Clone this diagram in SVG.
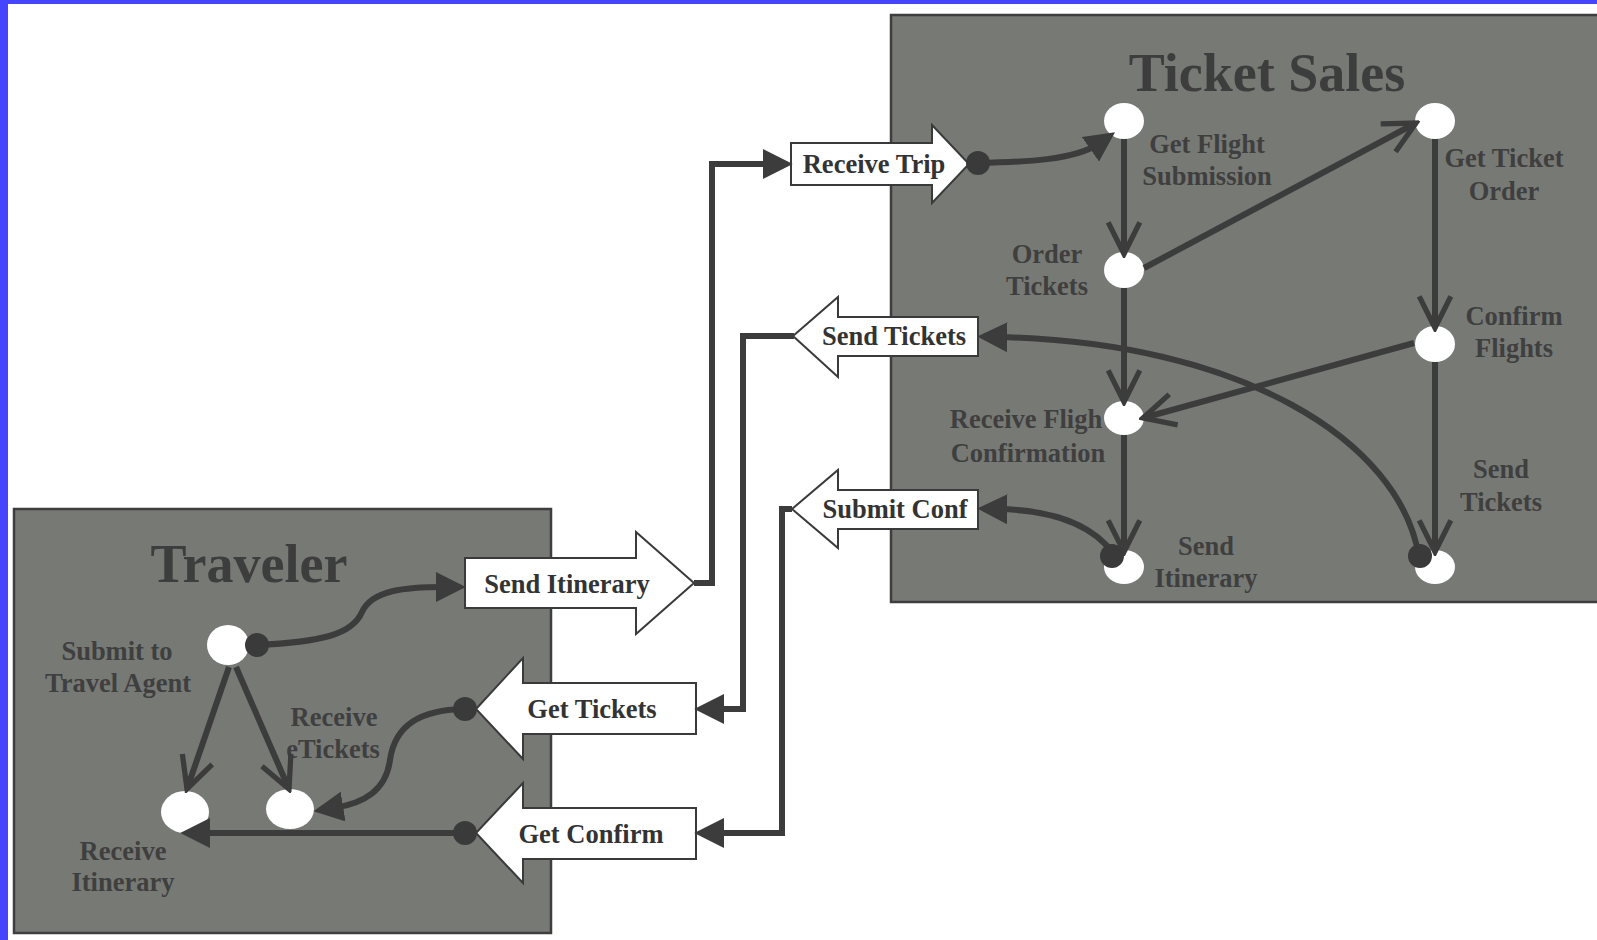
<svg xmlns="http://www.w3.org/2000/svg" width="1597" height="940" viewBox="0 0 1597 940">
<defs>
<style>
.bg{fill:#ffffff}
.frame{fill:#4545ff}
.box{fill:#777975;stroke:#3e3e3e;stroke-width:2.5}
.title{font-family:"Liberation Serif","Times New Roman",serif;font-weight:bold;font-size:54px;fill:#3d3d3d;text-anchor:middle}
.lbl{font-family:"Liberation Serif","Times New Roman",serif;font-weight:bold;font-size:26.5px;fill:#3f3f3f;text-anchor:middle}
.ilbl{font-family:"Liberation Serif","Times New Roman",serif;font-weight:bold;font-size:26.5px;fill:#333333;text-anchor:middle}
.node{fill:#ffffff}
.iface{fill:#ffffff;stroke:#3a3a3a;stroke-width:2}
.ln{fill:none;stroke:#3c3c3c;stroke-width:6}
.dot{fill:#3a3a3a}
</style>
<marker id="fa" markerUnits="userSpaceOnUse" markerWidth="30" markerHeight="30" viewBox="0 0 26 26" refX="8" refY="13" orient="auto">
<path d="M0,0 L26,13 L0,26 z" fill="#3c3c3c"/>
</marker>
<marker id="va" markerUnits="userSpaceOnUse" markerWidth="40" markerHeight="40" viewBox="-4 -4 38 38" refX="30" refY="15" orient="auto">
<path d="M0,0 L30,15 L0,30" fill="none" stroke="#3c3c3c" stroke-width="5"/>
</marker>
</defs>
<rect class="bg" x="0" y="0" width="1597" height="940"/>
<rect class="frame" x="0" y="0" width="1597" height="4"/>
<rect class="frame" x="0" y="0" width="8" height="940"/>

<g id="ticket-sales">
<rect class="box" x="891" y="15" width="710" height="587"/>
<text class="title" x="1267" y="91">Ticket Sales</text>
</g>
<g id="traveler">
<rect class="box" x="14" y="509" width="537" height="424"/>
<text class="title" x="249" y="582">Traveler</text>
</g>

<g id="labels">
<text class="lbl" x="1207" y="153">Get Flight</text>
<text class="lbl" x="1207" y="185">Submission</text>
<text class="lbl" x="1504" y="167">Get Ticket</text>
<text class="lbl" x="1504" y="200">Order</text>
<text class="lbl" x="1047" y="263">Order</text>
<text class="lbl" x="1047" y="295">Tickets</text>
<text class="lbl" x="1514" y="325">Confirm</text>
<text class="lbl" x="1514" y="357">Flights</text>
<text class="lbl" x="1026" y="428">Receive Fligh</text>
<text class="lbl" x="1028" y="462">Confirmation</text>
<text class="lbl" x="1206" y="555">Send</text>
<text class="lbl" x="1206" y="587">Itinerary</text>
<text class="lbl" x="1501" y="478">Send</text>
<text class="lbl" x="1501" y="511">Tickets</text>
<text class="lbl" x="117" y="660">Submit to</text>
<text class="lbl" x="118" y="692">Travel Agent</text>
<text class="lbl" x="334" y="726">Receive</text>
<text class="lbl" x="333" y="758">eTickets</text>
<text class="lbl" x="123" y="860">Receive</text>
<text class="lbl" x="123" y="891">Itinerary</text>
</g>

<g id="node-get-flight-submission"><ellipse class="node" cx="1124" cy="121" rx="20" ry="18"/></g>
<g id="node-get-ticket-order"><ellipse class="node" cx="1435" cy="121" rx="20" ry="18"/></g>
<g id="node-order-tickets"><ellipse class="node" cx="1124" cy="270" rx="20" ry="18"/></g>
<g id="node-confirm-flights"><ellipse class="node" cx="1435" cy="344" rx="20" ry="18"/></g>
<g id="node-receive-flight-confirmation"><ellipse class="node" cx="1124" cy="418" rx="20" ry="17"/></g>
<g id="node-send-itinerary-ts"><ellipse class="node" cx="1124" cy="567" rx="20" ry="17"/></g>
<g id="node-send-tickets-ts"><ellipse class="node" cx="1435" cy="567" rx="20" ry="17"/></g>
<g id="node-submit-to-travel-agent"><ellipse class="node" cx="228" cy="645" rx="21" ry="20"/></g>
<g id="node-receive-itinerary"><ellipse class="node" cx="185" cy="812" rx="24" ry="21"/></g>
<g id="node-receive-etickets"><ellipse class="node" cx="290" cy="809" rx="24" ry="20"/></g>

<g id="iface-receive-trip">
<polygon class="iface" points="791,143 932,143 932,125 969,164 932,203 932,185 791,185"/>
<text class="ilbl" x="874" y="173">Receive Trip</text>
</g>
<g id="iface-send-tickets">
<polygon class="iface" points="978,317 838,317 838,297 793,336 838,377 838,356 978,356"/>
<text class="ilbl" x="894" y="345">Send Tickets</text>
</g>
<g id="iface-submit-conf">
<polygon class="iface" points="978,490 838,490 838,470 792,509 838,548 838,529 978,529"/>
<text class="ilbl" x="895" y="518">Submit Conf</text>
</g>
<g id="iface-send-itinerary">
<polygon class="iface" points="465,558 636,558 636,532 694,583 636,634 636,608 465,608"/>
<text class="ilbl" x="567" y="593">Send Itinerary</text>
</g>
<g id="iface-get-tickets">
<polygon class="iface" points="696,683 523,683 523,658 476,709 523,759 523,734 696,734"/>
<text class="ilbl" x="592" y="718">Get Tickets</text>
</g>
<g id="iface-get-confirm">
<polygon class="iface" points="696,808 523,808 523,783 476,833 523,883 523,859 696,859"/>
<text class="ilbl" x="591" y="843">Get Confirm</text>
</g>

<g id="connectors">
<path class="ln" d="M694,583 H712 V164 H772" marker-end="url(#fa)"/>
<path class="ln" d="M794,336 H743 V709 H715" marker-end="url(#fa)"/>
<path class="ln" d="M792,509 H782 V833 H715" marker-end="url(#fa)"/>
<path class="ln" d="M978,163 C1025,162 1075,160 1098,144" marker-end="url(#fa)"/>
<path class="ln" d="M1124,139 V254" marker-end="url(#va)"/>
<path class="ln" d="M1144,268 L1416,123" marker-end="url(#va)"/>
<path class="ln" d="M1435,139 V328" marker-end="url(#va)"/>
<path class="ln" d="M1124,288 V402" marker-end="url(#va)"/>
<path class="ln" d="M1414,343 L1143,418" marker-end="url(#va)"/>
<path class="ln" d="M1124,435 V552" marker-end="url(#va)"/>
<path class="ln" d="M1435,362 V552" marker-end="url(#va)"/>
<path class="ln" d="M1113,553 C1090,522 1050,510 998,509" marker-end="url(#fa)"/>
<path class="ln" d="M1419,557 C1400,440 1240,342 998,337" marker-end="url(#fa)"/>
<path class="ln" d="M257,645 C320,642 352,635 362,612 C372,590 405,587 445,587" marker-end="url(#fa)"/>
<path class="ln" d="M229,667 L187,789" marker-end="url(#va)"/>
<path class="ln" d="M236,667 L289,789" marker-end="url(#va)"/>
<path class="ln" d="M464,709 C420,710 395,725 390,760 C386,790 365,803 334,808" marker-end="url(#fa)"/>
<path class="ln" d="M465,833 H201" marker-end="url(#fa)"/>
<circle class="dot" cx="978" cy="163" r="12"/>
<circle class="dot" cx="1112" cy="556" r="12"/>
<circle class="dot" cx="1420" cy="556" r="12"/>
<circle class="dot" cx="257" cy="645" r="12"/>
<circle class="dot" cx="465" cy="709" r="12"/>
<circle class="dot" cx="465" cy="833" r="12"/>
</g>
</svg>
